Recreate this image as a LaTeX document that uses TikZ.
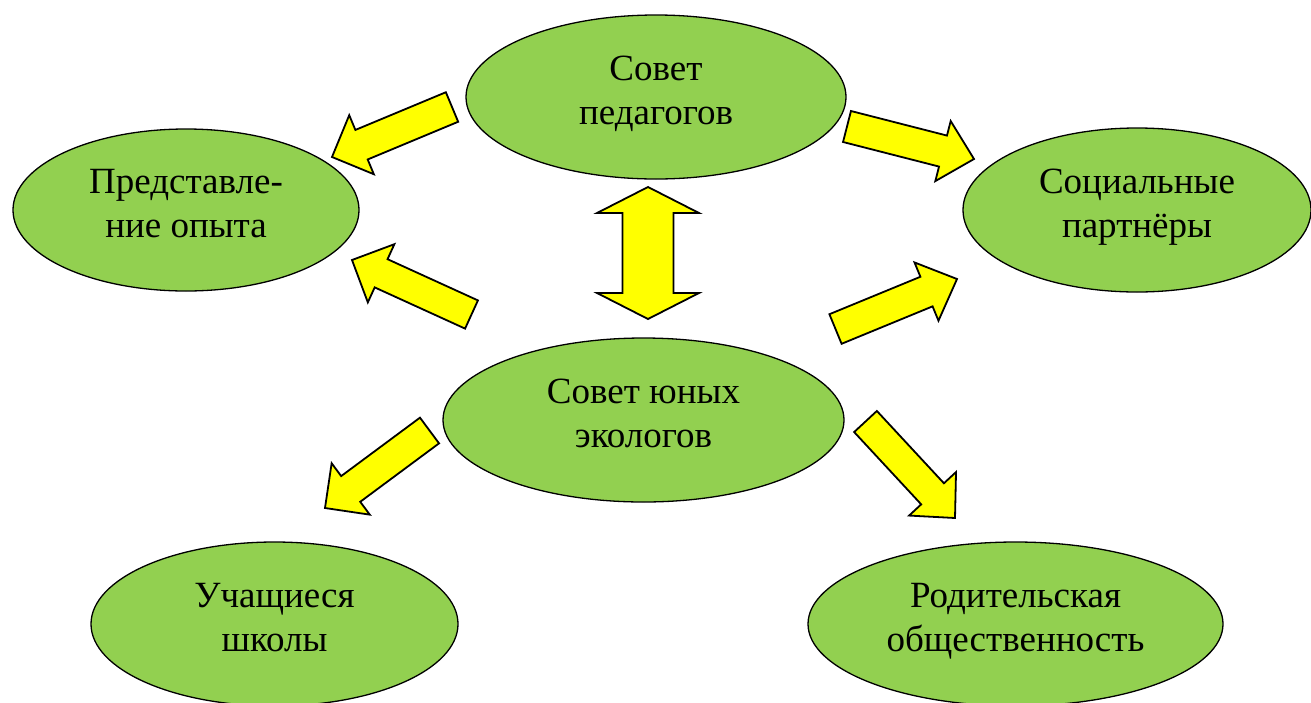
\documentclass[tikz,border=0pt]{standalone}
\usepackage{fontspec}
\setmainfont{Liberation Serif}
\usetikzlibrary{shapes.geometric,calc}
\definecolor{leaf}{HTML}{92D050}
\definecolor{arrowyellow}{HTML}{FFFF00}
\newcommand{\topstrut}{\rule{0pt}{30pt}}
\newcommand{\botstrut}{\rule[-20pt]{0pt}{20pt}}
\tikzset{
  bubble/.style={ellipse, draw=black, line width=1.3pt, fill=leaf, inner sep=0pt,
    align=center, font=\fontsize{37}{44}\selectfont},
  blockarrow/.style={draw=black, line width=1.8pt, fill=arrowyellow, line join=miter},
}
% #1 tail, #2 tip, #3 shaft half width, #4 head half width, #5 head length
\newcommand{\blockarr}[5]{%
  \coordinate (hb) at ($(#2)!#5!(#1)$);
  \draw[blockarrow] ($(#1)!#3!90:(#2)$) -- ($(hb)!#3!90:(#2)$) -- ($(hb)!#4!90:(#2)$)
    -- (#2) -- ($(hb)!#4!-90:(#2)$) -- ($(hb)!#3!-90:(#2)$) -- ($(#1)!#3!-90:(#2)$) -- cycle;}
\begin{document}
\begin{tikzpicture}[x=1pt,y=-1pt]
\useasboundingbox (0,0) rectangle (1311,702);
% nodes
\node[bubble, minimum width=380pt, minimum height=164pt] (ped) at (656,97) {\topstrut Совет\\педагогов\botstrut};
\node[bubble, minimum width=346pt, minimum height=162pt] (pred) at (186,210) {\topstrut Представле-\\ние опыта\botstrut};
\node[bubble, minimum width=348pt, minimum height=164pt] (soc) at (1137,210) {\topstrut Социальные\\партнёры\botstrut};
\node[bubble, minimum width=401pt, minimum height=164pt] (yun) at (643.5,420) {\topstrut Совет юных\\экологов\botstrut};
\node[bubble, minimum width=367pt, minimum height=164pt] (uch) at (274.5,624) {\topstrut Учащиеся\\школы\botstrut};
\node[bubble, minimum width=415pt, minimum height=164pt] (rod) at (1015.5,624) {\topstrut Родительская\\общественность\botstrut};
% arrow end points
\coordinate (a1t) at (452,107);   \coordinate (a1h) at (332,157);
\coordinate (a2t) at (847,126.5); \coordinate (a2h) at (974,159);
\coordinate (a3t) at (471.5,314.5); \coordinate (a3h) at (352,260);
\coordinate (a4t) at (835.5,329); \coordinate (a4h) at (957,279);
\coordinate (a5t) at (429.5,430.5); \coordinate (a5h) at (325,508);
\coordinate (a6t) at (865.5,421.5); \coordinate (a6h) at (955,518);
\coordinate (dtop) at (648,187);  \coordinate (dbot) at (648,319);
% block arrows
\blockarr{a1t}{a1h}{16pt}{32pt}{32pt}
\blockarr{a2t}{a2h}{16pt}{31pt}{32pt}
\blockarr{a3t}{a3h}{15.5pt}{32pt}{32pt}
\blockarr{a4t}{a4h}{16pt}{31.5pt}{33pt}
\blockarr{a5t}{a5h}{16pt}{32pt}{32pt}
\blockarr{a6t}{a6h}{15.5pt}{32pt}{33pt}
% double arrow
\draw[blockarrow] (dtop) -- ($(dtop)+(51,26)$) -- ($(dtop)+(25.5,26)$) -- ($(dbot)+(25.5,-26)$)
  -- ($(dbot)+(51,-26)$) -- (dbot) -- ($(dbot)+(-51,-26)$) -- ($(dbot)+(-25.5,-26)$)
  -- ($(dtop)+(-25.5,26)$) -- ($(dtop)+(-51,26)$) -- cycle;
\end{tikzpicture}
\end{document}
